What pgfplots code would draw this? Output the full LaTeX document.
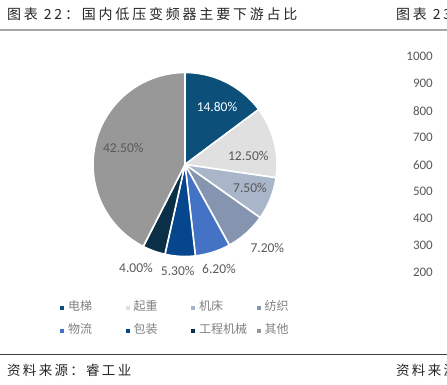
\documentclass[border=0pt]{standalone}
\usepackage{pgfplots}
\pgfplotsset{compat=1.18}
\usepackage{fontspec}
\setmainfont{Carlito}
\newfontfamily\cjk{Noto Sans CJK SC}
\definecolor{c1}{HTML}{0C507A}
\definecolor{c2}{HTML}{E0E0E0}
\definecolor{c3}{HTML}{A9B6CA}
\definecolor{c4}{HTML}{8594AF}
\definecolor{c5}{HTML}{4472C4}
\definecolor{c6}{HTML}{06468C}
\definecolor{c7}{HTML}{0A2F47}
\definecolor{c8}{HTML}{989898}
\definecolor{lab}{HTML}{595959}
\definecolor{leg}{HTML}{808080}
\definecolor{ttl}{HTML}{262626}
% start (cumulative %), value (%), colour, name
\newcommand\slice[4]{%
  \pgfmathsetmacro\aa{90-3.6*(#1)}%
  \pgfmathsetmacro\bb{90-3.6*(#1+#2)}%
  \edef\tmp{\noexpand\addplot[fill=#3, draw=white, line width=1.6pt, line join=round, domain=\bb:\aa, samples=60] ({cos(x)},{sin(x)}) -- (axis cs:0,0) -- cycle;}%
  \tmp
  \addlegendentry{\makebox[57.5pt][l]{#4}}}
\begin{document}
\begin{tikzpicture}[x=1pt,y=1pt]
\useasboundingbox (0,0) rectangle (447,385);
\clip (0,0) rectangle (447,385);
% header
\node[anchor=west, inner sep=0pt, text=ttl, font=\cjk\fontsize{14}{14}\selectfont\addfontfeature{LetterSpace=20}] at (7,371.2) {图表 22：国内低压变频器主要下游占比};
\node[anchor=west, inner sep=0pt, text=ttl, font=\cjk\fontsize{14}{14}\selectfont\addfontfeature{LetterSpace=20}] at (396,371.2) {图表 23：};
\draw[line width=2pt, color=black!35] (0,355) -- (447,355);
% pie
\begin{axis}[at={(93pt,128.5pt)}, anchor=south west, scale only axis,
  width=184pt, height=184pt, xmin=-1, xmax=1, ymin=-1, ymax=1,
  hide axis, clip=false,
  legend columns=4,
  legend image code/.code={\fill[#1, draw=none] (0pt,-2pt) rectangle (4pt,2pt);},
  legend style={draw=none, fill=none, inner sep=0pt, outer sep=0pt,
    at={(-0.179,-0.247)}, anchor=north west,
    font=\cjk\fontsize{12}{12}\selectfont, text=leg,
    nodes={inner sep=0pt, text height=9pt, text depth=3pt},
    row sep=11pt,
    /tikz/every odd column/.append style={column sep=4pt}},
  legend cell align=left]
\slice{0}{14.8}{c1}{电梯}
\slice{14.8}{12.5}{c2}{起重}
\slice{27.3}{7.5}{c3}{机床}
\slice{34.8}{7.2}{c4}{纺织}
\slice{42.0}{6.2}{c5}{物流}
\slice{48.2}{5.3}{c6}{包装}
\slice{53.5}{4.0}{c7}{工程机械}
\slice{57.5}{42.5}{c8}{其他}
\end{axis}
% data labels
\begin{scope}[every node/.style={font=\fontsize{13.5}{14}\selectfont, text=lab, inner sep=0pt}]
\node[text=white] at (217,278) {14.80\%};
\node at (248.3,229.3) {12.50\%};
\node at (250,197.3) {7.50\%};
\node at (267.3,136.7) {7.20\%};
\node at (219,115.7) {6.20\%};
\node at (177.7,113.7) {5.30\%};
\node at (136,116.7) {4.00\%};
\node at (123.3,236.7) {42.50\%};
\end{scope}
% partial neighbouring chart (axis ticks)
\begin{axis}[at={(433pt,112.3pt)}, anchor=south west, scale only axis,
  width=8pt, height=216pt, xmin=0, xmax=1, ymin=200, ymax=1000,
  xtick=\empty, ytick={200,300,...,1000}, axis line style={draw=none},
  major tick length=0pt,
  yticklabel style={anchor=east, inner sep=0pt, text=lab, font=\fontsize{13}{13}\selectfont},
  /pgf/number format/assume math mode=true, /pgf/number format/1000 sep={}]
\end{axis}
% footer
\draw[line width=1pt, color=black!75] (0,30.5) -- (447,30.5);
\node[anchor=west, inner sep=0pt, text=ttl, font=\cjk\fontsize{13.5}{14}\selectfont\addfontfeature{LetterSpace=17}] at (7,15) {资料来源：睿工业};
\node[anchor=west, inner sep=0pt, text=ttl, font=\cjk\fontsize{13.5}{14}\selectfont\addfontfeature{LetterSpace=17}] at (396,15) {资料来源：};
\end{tikzpicture}
\end{document}
